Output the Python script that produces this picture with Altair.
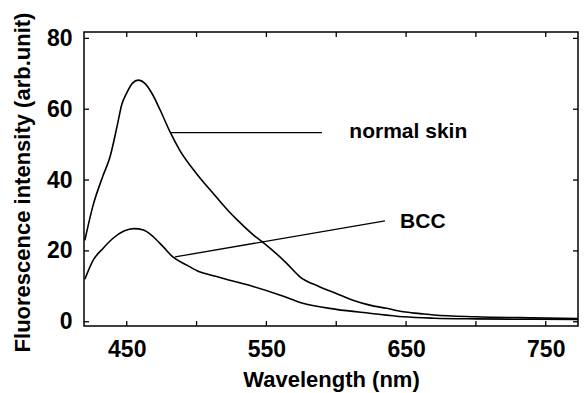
import altair as alt
import pandas as pd

# ---- data ----
wl_normal = [420, 426, 433, 438, 443, 446.5, 450, 454, 458.3, 463, 468, 474, 481, 488,
             500, 512, 523, 530, 541, 548, 564.5, 574, 588, 600, 612, 624, 636, 648,
             660, 670, 700, 740, 779]
int_normal = [23.0, 33.0, 41.2, 46.5, 55.0, 61.4, 64.6, 67.3, 68.2, 67.3, 64.5, 59.7, 53.6, 48.4,
              41.8, 36.2, 31.2, 28.4, 24.4, 22.3, 16.5, 12.7, 9.9, 8.0, 6.1, 4.7, 3.8, 2.8,
              2.3, 1.9, 1.4, 1.1, 0.9]

wl_bcc = [420, 426, 433, 440, 448, 455, 462, 469, 476, 483, 493, 502, 512, 523,
          541, 560, 576, 600, 624, 648, 670, 700, 740, 779]
int_bcc = [12.0, 17.4, 20.7, 23.5, 25.6, 26.3, 25.9, 24.0, 21.2, 18.3, 16.0, 14.1, 13.0, 11.8,
           9.9, 7.5, 5.2, 3.5, 2.4, 1.4, 1.0, 0.8, 0.7, 0.6]

x_labels = [450, 550, 650, 750]
x_ticks = [450, 500, 550, 600, 650, 700, 750]
y_ticks = [0, 20, 40, 60, 80]

ann_text = ["normal skin", "BCC"]
ann_x = [609.4, 645.7]
ann_y = [51.8, 26.6]
lead_x = [481.0, 484.6]
lead_y = [53.4, 18.3]
lead_x2 = [589.8, 634.9]
lead_y2 = [53.4, 28.5]

# ---- tables ----
df = pd.concat([
    pd.DataFrame({"wl": wl_normal, "val": int_normal, "series": "normal skin"}),
    pd.DataFrame({"wl": wl_bcc, "val": int_bcc, "series": "BCC"}),
])
ann_df = pd.DataFrame({"wl": ann_x, "val": ann_y, "t": ann_text})
lead_df = pd.DataFrame({"wl": lead_x, "val": lead_y, "wl2": lead_x2, "val2": lead_y2})
xt_df = pd.DataFrame({"wl": x_ticks})
yt_df = pd.DataFrame({"val": y_ticks})

W, H = 494, 294
FONT = "Liberation Sans"
xscale = alt.Scale(domain=[419.4, 773.1], nice=False, zero=False)
yscale = alt.Scale(domain=[-1.2, 81.8], nice=False, zero=False)

xaxis = alt.Axis(values=x_labels, format="d", grid=False, domain=False, ticks=False,
                 labelFont=FONT, labelFontSize=23, labelFontWeight="bold", labelColor="black",
                 labelPadding=12, labelFlush=False,
                 title="Wavelength (nm)", titleFont=FONT, titleFontSize=22,
                 titleFontWeight="bold", titleColor="black", titleBaseline="alphabetic",
                 titleX=W / 2, titleY=60, titleAlign="center")
yaxis = alt.Axis(values=y_ticks, format="d", grid=False, domain=False, ticks=False,
                 labelFont=FONT, labelFontSize=23, labelFontWeight="bold", labelColor="black",
                 labelPadding=12, labelFlush=False, labelBaseline="middle",
                 title="Fluorescence intensity (arb.unit)", titleFont=FONT, titleFontSize=22,
                 titleFontWeight="bold", titleColor="black", titleAngle=270,
                 titleBaseline="middle", titleAlign="center", titleX=-62, titleY=150)

X = alt.X("wl:Q", scale=xscale, axis=xaxis)
Y = alt.Y("val:Q", scale=yscale, axis=yaxis)

lines = alt.Chart(df).mark_line(color="black", strokeWidth=1.6, interpolate="monotone", clip=True).encode(
    x=X, y=Y, detail="series:N",
)

leaders = alt.Chart(lead_df).mark_rule(color="black", strokeWidth=1.3).encode(
    x=X, y=Y, x2="wl2:Q", y2="val2:Q",
)

texts = alt.Chart(ann_df).mark_text(align="left", baseline="alphabetic", font=FONT, fontSize=21,
                                     fontWeight="bold", color="black").encode(
    x=X, y=Y, text="t:N",
)

tick_style = dict(color="black", strokeWidth=1.3)
bottom_ticks = alt.Chart(xt_df).mark_rule(**tick_style).encode(
    x=X, y=alt.value(H), y2=alt.value(H - 5))
top_ticks = alt.Chart(xt_df).mark_rule(**tick_style).encode(
    x=X, y=alt.value(0), y2=alt.value(5))
left_ticks = alt.Chart(yt_df).mark_rule(**tick_style).encode(
    y=Y, x=alt.value(0), x2=alt.value(5))
right_ticks = alt.Chart(yt_df).mark_rule(**tick_style).encode(
    y=Y, x=alt.value(W), x2=alt.value(W - 5))

chart = alt.layer(lines, leaders, texts, bottom_ticks, top_ticks, left_ticks, right_ticks).properties(
    width=W, height=H,
    autosize=alt.AutoSizeParams(type="none"),
    padding={"left": 76, "top": 24, "right": 1, "bottom": 67},
    background="white",
).configure_view(stroke="black", strokeWidth=1.5)

chart.save("out.html", embed_options={"renderer": "svg", "actions": False})
